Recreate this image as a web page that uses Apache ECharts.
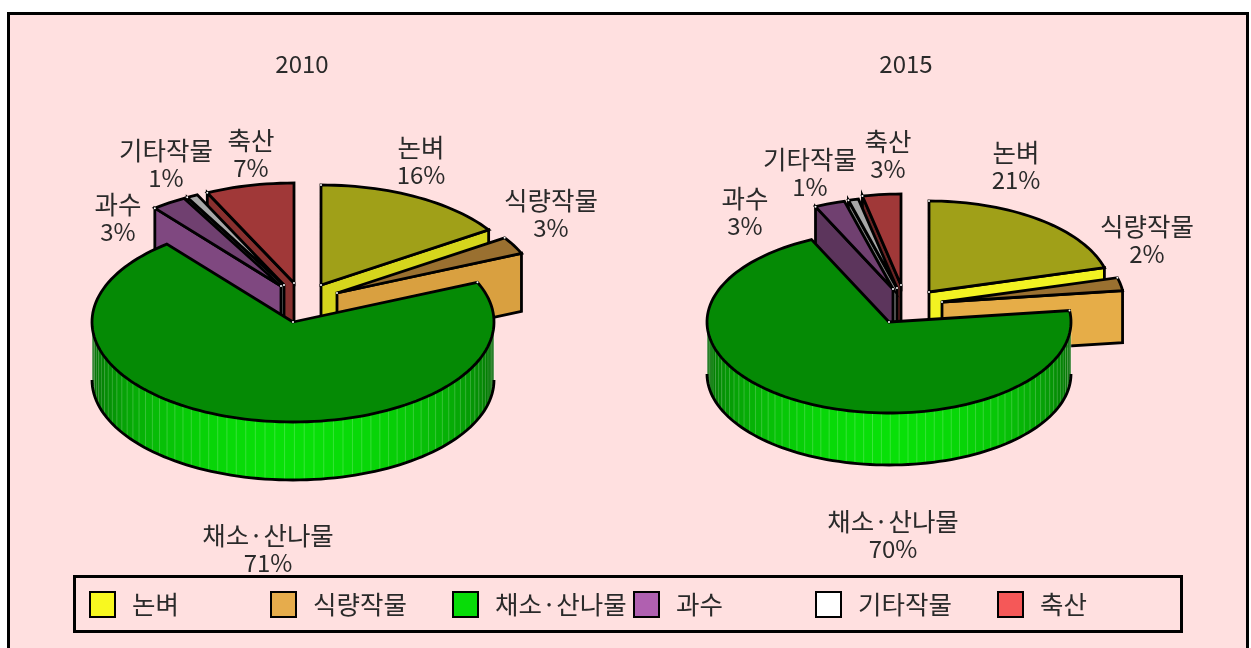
<!DOCTYPE html>
<html>
<head>
<meta charset="utf-8">
<style>
  html, body { margin: 0; padding: 0; background: #fff; }
  #chart { width: 1251px; height: 648px; }
</style>
<script src="https://cdn.jsdelivr.net/npm/echarts@6/dist/echarts.min.js"></script>
</head>
<body>
<div id="chart"></div>
<script>
const categories = ['논벼', '식량작물', '채소·산나물', '과수', '기타작물', '축산']
const years = ['2010', '2015']
const values2010 = [15.7, 2.8, 70.7, 2.8, 0.9, 7.1]
const values2015 = [20.7, 2.3, 70.0, 2.7, 0.9, 3.4]

const legendColors = ['#f8f820', '#e6ac4c', '#08dc08', '#b060b0', '#ffffff', '#f55858']
const topColors = ['#a0a018', '#9a7030', '#058a05', '#704070', '#a8a8a8', '#a03838']
const sideColors2010 = ['#d6d61c', '#d9a040', '#08e008', '#7f4880', '#b8b8b8', '#88302f']
const sideColors2015 = ['#f2f222', '#e6ad48', '#08e008', '#5c355c', '#808080', '#6a2525']
// back to front
const drawOrder = [3, 4, 5, 2, 1, 0]
const legendLeft = [89, 270, 452, 633, 815, 997]

const font = '"Noto Sans CJK KR", sans-serif'
const textColor = '#2a2a2a'

const pies = [
    {
        values: values2010, sideColors: sideColors2010,
        cx: 293, cy: 322, rx: 201, ry: 100, depth: 58,
        explode: [[28, -37], [44, -29], [0, 0], [-12, -36], [-9, -37], [1, -39]],
        labelPos: [[421, 161], [551, 214], [268, 549], [118, 218], [166, 164], [251, 154]]
    },
    {
        values: values2015, sideColors: sideColors2015,
        cx: 889, cy: 322, rx: 182, ry: 91, depth: 52,
        explode: [[40, -30], [53, -20], [0, 0], [4, -33], [8, -34], [12, -37]],
        labelPos: [[1016, 166], [1147, 240], [893, 535], [745, 212], [810, 173], [888, 155]]
    }
]

function shade (hex, f) {
    const n = parseInt(hex.slice(1), 16)
    const ch = s => Math.round(((n >> s) & 255) * f)
    return 'rgb(' + ch(16) + ',' + ch(8) + ',' + ch(0) + ')'
}

function renderSlice (params, api) {
    const pie = pies[params.dataIndex]
    const idx = params.seriesIndex
    const total = pie.values.reduce((a, b) => a + b, 0)
    const before = pie.values.slice(0, idx).reduce((a, b) => a + b, 0)
    const a1 = before / total * 360
    const a2 = (before + api.value(0)) / total * 360
    const ox = pie.cx + pie.explode[idx][0]
    const oy = pie.cy + pie.explode[idx][1]
    const pt = (deg, drop) => {
        const r = deg * Math.PI / 180
        return [ox + pie.rx * Math.sin(r), oy - pie.ry * Math.cos(r) + (drop || 0)]
    }
    const arc = (from, to, drop) => {
        const pts = []
        const n = Math.max(2, Math.ceil((to - from) / 2))
        for (let k = 0; k <= n; k++) pts.push(pt(from + (to - from) * k / n, drop))
        return pts
    }
    const black = { stroke: '#000', lineWidth: 2.8, lineJoin: 'miter' }
    const children = []
    const side = pie.sideColors[idx]

    // outer wall, only the part that faces the viewer
    const lo = Math.max(a1, 90)
    const hi = Math.min(a2, 270)
    if (hi > lo) {
        const step = 2.8
        for (let a = lo; a < hi; a += step) {
            const b = Math.min(a + step, hi)
            const mid = (a + b) / 2 * Math.PI / 180
            const col = shade(side, 0.4 + 0.6 * Math.abs(Math.cos(mid)))
            children.push({
                type: 'polygon',
                shape: { points: [pt(a), pt(b + 0.4), pt(b + 0.4, pie.depth), pt(a, pie.depth)] },
                style: { fill: col }
            })
            children.push({
                type: 'line',
                shape: { x1: pt(a)[0], y1: pt(a)[1], x2: pt(a, pie.depth)[0], y2: pt(a, pie.depth)[1] },
                style: { stroke: 'rgba(255,255,255,0.2)', lineWidth: 1 }
            })
        }
        children.push({
            type: 'polyline',
            shape: { points: arc(lo, hi, pie.depth) },
            style: Object.assign({ fill: null }, black)
        })
    }

    // cut wall
    if (a2 <= 180 || a1 >= 180) {
        const cut = a2 <= 180 ? a2 : a1
        children.push({
            type: 'polygon',
            shape: { points: [[ox, oy], pt(cut), pt(cut, pie.depth), [ox, oy + pie.depth]] },
            style: Object.assign({ fill: side }, black)
        })
    }

    // top face
    children.push({
        type: 'polygon',
        shape: { points: [[ox, oy]].concat(arc(a1, a2)) },
        style: Object.assign({ fill: topColors[idx] }, black)
    })

    // small handle dots
    ;[[ox, oy], pt(a1)].forEach(p => {
        children.push({ type: 'circle', shape: { cx: p[0], cy: p[1], r: 1 }, style: { fill: '#fff' } })
    })

    const lp = pie.labelPos[idx]
    children.push({
        type: 'text',
        style: {
            x: lp[0], y: lp[1],
            text: '{h|' + categories[idx] + '}\n{d|' + Math.round(api.value(0)) + '%}',
            align: 'center', verticalAlign: 'middle',
            rich: {
                h: { fontFamily: font, fontSize: 25.5, lineHeight: 27, fill: textColor, color: textColor },
                d: { fontFamily: font, fontSize: 24, lineHeight: 27, fill: textColor, color: textColor }
            }
        }
    })
    return { type: 'group', children: children }
}

const chart = echarts.init(document.getElementById('chart'))
chart.setOption({
    animation: false,
    backgroundColor: '#fff',
    title: years.map((y, i) => ({
        text: y,
        left: i === 0 ? 297 : 901,
        top: 47,
        textAlign: 'center',
        textStyle: { fontFamily: font, fontSize: 24, fontWeight: 'normal', color: textColor }
    })),
    legend: categories.map((name, i) => ({
        left: legendLeft[i],
        top: 591,
        padding: 0,
        selectedMode: false,
        itemWidth: 25,
        itemHeight: 25,
        icon: 'rect',
        data: [{
            name: name,
            itemStyle: { color: legendColors[i], borderColor: '#000', borderWidth: 2 }
        }],
        textStyle: {
            fontFamily: font, fontSize: 25.5, color: textColor,
            padding: [3, 0, 0, 12]
        }
    })),
    graphic: [
        {
            type: 'rect', z: -2,
            shape: { x: 8.5, y: 13.5, width: 1239, height: 660 },
            style: { fill: '#ffe0e0', stroke: '#000', lineWidth: 3 }
        },
        {
            type: 'rect', z: -1,
            shape: { x: 74.5, y: 576.5, width: 1107, height: 55 },
            style: { fill: 'none', stroke: '#000', lineWidth: 3 }
        }
    ],
    series: categories.map((name, i) => ({
        type: 'custom',
        name: name,
        coordinateSystem: 'none',
        z: 2 + drawOrder[i],
        silent: true,
        itemStyle: { color: legendColors[i] },
        renderItem: renderSlice,
        data: [[values2010[i]], [values2015[i]]]
    }))
})
</script>
</body>
</html>
